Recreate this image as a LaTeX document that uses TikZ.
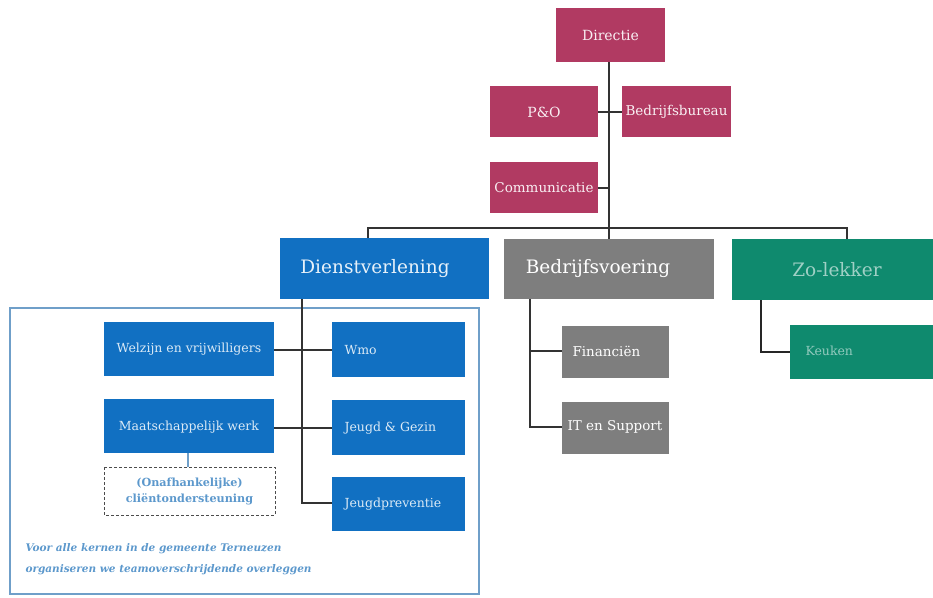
\documentclass[tikz,border=0pt]{standalone}
\usepackage{fontspec}
\setmainfont{DejaVu Serif}
\begin{document}
\begin{tikzpicture}[x=1pt,y=-1pt,
  redtxt/.style={text=white!92!crim,font=\fontsize{14}{15}\selectfont},
  bigtxt/.style={font=\fontsize{18.5}{21}\selectfont},
  bluetxt/.style={text=white!85!dblue,font=\fontsize{12.5}{14}\selectfont},
  graytxt/.style={text=white,font=\fontsize{13.5}{15}\selectfont},
  conn/.style={draw=black!80,line width=1.1pt},
]
\definecolor{crim}{HTML}{B13A62}
\definecolor{dblue}{HTML}{1170C2}
\definecolor{dgray}{HTML}{7E7E7E}
\definecolor{dgreen}{HTML}{0F8A6E}
\definecolor{frame}{HTML}{6F9FC9}
\definecolor{ltext}{HTML}{5C98CC}
\useasboundingbox (0,0) rectangle (933,597);

% red boxes
\path[fill=crim] (556,8) rectangle (665,62);
\node[redtxt] (dir) at (610.5,35) {Directie};
\coordinate (dirb) at (609,62);
\path[fill=crim] (490,86) rectangle (598,137);
\node[redtxt] (po) at (544,112) {P\&O};
\path[fill=crim] (622,86) rectangle (731,137);
\node[redtxt,font=\fontsize{13.5}{15}\selectfont] (bb) at (676.5,112) {Bedrijfsbureau};
\path[fill=crim] (490,162) rectangle (598,213);
\node[redtxt,font=\fontsize{13.5}{15}\selectfont] (comm) at (544,188) {Communicatie};

% top connectors
\coordinate (hub) at (609,228);
\draw[conn] (dirb) -- (hub);
\draw[conn] (598,112) -- (622,112);
\draw[conn] (598,188) -- (609,188);
\draw[conn] (368,238) -- (368,228) -- (847,228) -- (847,239);
\draw[conn] (609,228) -- (609,239);

% main departments
\path[fill=dblue] (280,238) rectangle (489,299);
\node[bigtxt,text=white!90!dblue] (dv) at (375,269) {Dienstverlening};
\path[fill=dgray] (504,239) rectangle (714,299);
\node[bigtxt,text=white] (bv) at (598,269) {Bedrijfsvoering};
\path[fill=dgreen] (732,239) rectangle (933,300);
\node[bigtxt,text=white!60!dgreen] (zl) at (837,269.5) {Zo-lekker};

% frame
\draw[frame,line width=1.3pt] (10,308) rectangle (479,594);

% Dienstverlening children
\path[fill=dblue] (104,322) rectangle (274,376);
\node[bluetxt] (wz) at (189,349) {Welzijn en vrijwilligers};
\path[fill=dblue] (332,322) rectangle (465,377);
\node[bluetxt,anchor=west] (wmo) at (341,350) {Wmo};
\path[fill=dblue] (104,399) rectangle (274,453);
\node[bluetxt] (mw) at (189,427) {Maatschappelijk werk};
\path[fill=dblue] (332,400) rectangle (465,455);
\node[bluetxt,anchor=west] (jg) at (341,428) {Jeugd \& Gezin};
\path[fill=dblue] (332,477) rectangle (465,531);
\node[bluetxt,anchor=west] (jp) at (341,504) {Jeugdpreventie};

\draw[conn] (302,299) -- (302,503) -- (332,503);
\draw[conn] (274,350) -- (332,350);
\draw[conn] (274,428) -- (332,428);
\draw[draw=frame,line width=1.3pt] (188,453) -- (188,467);

\draw[draw=black!70,densely dashed,line width=0.8pt] (104,467) rectangle (275,515);
\node[text=ltext,font=\bfseries\fontsize{11.2}{16}\selectfont,align=center] (clo) at (189.5,491) {(Onafhankelijke)\\cliëntondersteuning};

\node[anchor=west,text=ltext,font=\bfseries\itshape\fontsize{10.5}{21}\selectfont,align=left] (note) at (22,559) {Voor alle kernen in de gemeente Terneuzen\\organiseren we teamoverschrijdende overleggen};

% Bedrijfsvoering children
\path[fill=dgray] (562,326) rectangle (669,378);
\node[graytxt,anchor=west] (fin) at (569,351) {Financiën};
\path[fill=dgray] (562,402) rectangle (669,454);
\node[graytxt,anchor=west] (its) at (564,427) {IT en Support};
\draw[conn] (530,299) -- (530,427) -- (562,427);
\draw[conn] (530,351) -- (562,351);

% Zo-lekker child
\path[fill=dgreen] (790,325) rectangle (933,379);
\node[anchor=west,text=white!55!dgreen,font=\fontsize{12.5}{14}\selectfont] (kk) at (802,351) {Keuken};
\draw[draw=black!85,line width=1.8pt] (761,300) -- (761,352) -- (790,352);
\end{tikzpicture}
\end{document}
